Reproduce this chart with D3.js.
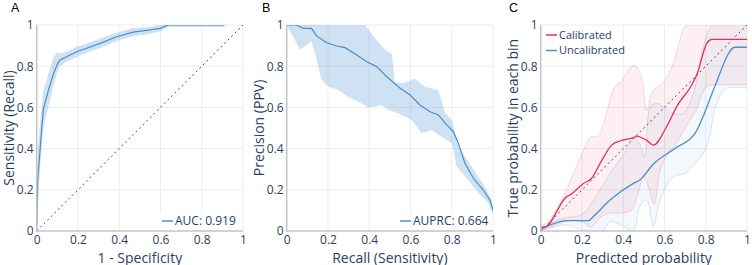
<!DOCTYPE html>
<html>
<head>
<meta charset="utf-8">
<script src="https://cdn.jsdelivr.net/npm/d3@7/dist/d3.min.js"></script>
<style>
  body { margin: 0; background: #fff; }
  svg { display: block; font-family: "Open Sans", sans-serif; }
</style>
</head>
<body>
<div id="chart"></div>
<script>
// ---- data ----
const ticks = [0, 0.2, 0.4, 0.6, 0.8, 1];

// A: ROC
const rocFpr   = [0, 0.005, 0.016, 0.032, 0.056, 0.08, 0.1, 0.113, 0.145, 0.194, 0.242, 0.307, 0.388, 0.468, 0.549, 0.598, 0.638, 0.91];
const rocTpr   = [0, 0.25, 0.39, 0.59, 0.68, 0.76, 0.81, 0.83, 0.846, 0.87, 0.887, 0.911, 0.943, 0.965, 0.976, 0.984, 1.0, 1.0];
const rocUpper = [0, 0.4, 0.52, 0.68, 0.76, 0.84, 0.87, 0.86, 0.87, 0.895, 0.91, 0.935, 0.962, 0.985, 0.99, 1.0, 1.0, 1.0];
const rocLower = [0, 0.12, 0.3, 0.5, 0.6, 0.7, 0.77, 0.8, 0.822, 0.845, 0.865, 0.888, 0.922, 0.945, 0.958, 0.968, 0.99, 0.99];

// B: precision-recall
const prRecall    = [0, 0.048, 0.08, 0.12, 0.145, 0.194, 0.242, 0.283, 0.34, 0.388, 0.436, 0.485, 0.55, 0.598, 0.646, 0.695, 0.735, 0.776, 0.808, 0.832, 0.864, 0.905, 0.953, 0.985, 1.0];
const prPrecision = [1, 1, 0.984, 0.984, 0.947, 0.914, 0.898, 0.89, 0.854, 0.822, 0.798, 0.749, 0.693, 0.66, 0.612, 0.579, 0.563, 0.515, 0.482, 0.426, 0.329, 0.256, 0.199, 0.15, 0.1];
const prUpperX = [0, 0.38, 0.41, 0.44, 0.476, 0.51, 0.524, 0.57, 0.621, 0.669, 0.735, 0.768, 0.8, 0.832, 0.897, 0.961, 0.993, 1.0];
const prUpperY = [1, 1, 0.96, 0.92, 0.88, 0.86, 0.72, 0.72, 0.74, 0.70, 0.684, 0.571, 0.539, 0.41, 0.312, 0.215, 0.15, 0.12];
const prLowerX = [0, 0.048, 0.065, 0.12, 0.145, 0.17, 0.202, 0.25, 0.299, 0.347, 0.396, 0.46, 0.49, 0.541, 0.606, 0.654, 0.703, 0.751, 0.8, 0.824, 0.864, 0.929, 0.977, 0.993, 1.0];
const prLowerY = [1, 0.911, 0.88, 0.92, 0.83, 0.733, 0.70, 0.684, 0.65, 0.628, 0.60, 0.61, 0.59, 0.57, 0.539, 0.475, 0.49, 0.458, 0.427, 0.312, 0.264, 0.184, 0.136, 0.1, 0.08];

// C: calibration
const calX = [0, 0.02, 0.126, 0.142, 0.207, 0.247, 0.288, 0.344, 0.384, 0.449, 0.465, 0.514, 0.546, 0.61, 0.659, 0.732, 0.756, 0.805, 0.83, 1];
const calY = [0.02, 0.02, 0.167, 0.175, 0.231, 0.256, 0.328, 0.417, 0.437, 0.453, 0.461, 0.44, 0.417, 0.506, 0.604, 0.709, 0.757, 0.911, 0.93, 0.93];
const calUpX = [0, 0.02, 0.068, 0.132, 0.181, 0.245, 0.278, 0.31, 0.359, 0.39, 0.439, 0.46, 0.488, 0.514, 0.546, 0.594, 0.643, 0.675, 0.708, 1];
const calUpY = [0.03, 0.035, 0.09, 0.215, 0.33, 0.458, 0.458, 0.539, 0.70, 0.725, 0.797, 0.8, 0.749, 0.587, 0.684, 0.72, 0.814, 0.927, 1.0, 1.0];
const calLoX = [0, 0.05, 0.1, 0.15, 0.2, 0.245, 0.294, 0.342, 0.39, 0.439, 0.472, 0.497, 0.52, 0.55, 0.58, 0.62, 0.66, 0.7, 0.75, 0.805, 0.85, 1];
const calLoY = [0.005, 0.02, 0.04, 0.053, 0.045, 0.02, 0.07, 0.087, 0.087, 0.1, 0.184, 0.26, 0.22, 0.13, 0.3, 0.38, 0.43, 0.5, 0.58, 0.703, 0.71, 0.71];

const uncalX = [0, 0.126, 0.231, 0.255, 0.336, 0.449, 0.481, 0.546, 0.651, 0.748, 0.837, 0.853, 0.942, 1];
const uncalY = [0.008, 0.05, 0.05, 0.07, 0.15, 0.231, 0.248, 0.325, 0.401, 0.474, 0.684, 0.725, 0.892, 0.892];
const uncUpX = [0, 0.1, 0.2, 0.25, 0.3, 0.35, 0.4, 0.455, 0.48, 0.505, 0.53, 0.56, 0.6, 0.643, 0.691, 0.74, 0.788, 0.837, 1];
const uncUpY = [0.01, 0.06, 0.08, 0.14, 0.22, 0.3, 0.37, 0.45, 0.42, 0.36, 0.6, 0.62, 0.6, 0.571, 0.571, 0.668, 0.895, 1.0, 1.0];
const uncLoX = [0, 0.126, 0.21, 0.3, 0.336, 0.39, 0.449, 0.48, 0.514, 0.546, 0.578, 0.643, 0.7, 0.75, 0.805, 0.853, 0.902, 1];
const uncLoY = [0, 0.03, 0, 0, 0.045, 0.03, 0, 0.12, 0.15, 0.02, 0.15, 0.264, 0.28, 0.33, 0.41, 0.62, 0.693, 0.693];

const colors = {
  text: '#2a3f5f',
  grid: '#ebedf0',
  axis: '#c4c4c4',
  blue: '#4a8fc9',
  blueFill: 'rgba(96,160,218,0.3)',
  red: '#e0335c',
  redFill: 'rgba(235,80,110,0.09)',
  redEdge: 'rgba(235,80,110,0.22)',
  uncFill: 'rgba(96,160,218,0.08)',
  uncEdge: 'rgba(96,160,218,0.25)',
  diag: '#4d4d4d'
};

const W = 752, H = 265;
const plotTop = 25, plotBottom = 231;

const svg = d3.select('#chart').append('svg')
  .attr('width', W)
  .attr('height', H);

const zip = (xs, ys) => xs.map((x, i) => [x, ys[i]]);

function drawPanel(opts) {
  const x = d3.scaleLinear().domain([0, 1]).range([opts.left, opts.left + 206.3]);
  const y = d3.scaleLinear().domain([0, 1]).range([plotBottom, plotTop]);
  const g = svg.append('g');

  // grid
  g.append('g')
    .selectAll('line')
    .data(ticks.slice(1))
    .enter().append('line')
    .attr('x1', d => x(d)).attr('x2', d => x(d))
    .attr('y1', plotTop).attr('y2', plotBottom)
    .attr('stroke', colors.grid).attr('stroke-width', 1);
  g.append('g')
    .selectAll('line')
    .data(ticks.slice(1))
    .enter().append('line')
    .attr('y1', d => y(d)).attr('y2', d => y(d))
    .attr('x1', x(0)).attr('x2', x(1))
    .attr('stroke', colors.grid).attr('stroke-width', 1);

  const fmt = d3.format('~g');
  const xAxis = g.append('g')
    .attr('transform', `translate(0,244)`)
    .call(d3.axisBottom(x).tickValues(ticks).tickFormat(fmt).tickSize(0));
  xAxis.selectAll('text').attr('y', 0).attr('dy', 0);
  const yAxis = g.append('g')
    .attr('transform', `translate(${x(0) - 3},0)`)
    .call(d3.axisLeft(y).tickValues(ticks).tickFormat(fmt).tickSize(0).tickPadding(0));
  [xAxis, yAxis].forEach(a => {
    a.select('.domain').remove();
    a.selectAll('text')
      .attr('fill', colors.text)
      .style('font-family', '"Open Sans", sans-serif')
      .style('font-size', '12px');
  });

  // clip
  const clipId = 'clip' + opts.letter;
  svg.append('clipPath').attr('id', clipId)
    .append('rect')
    .attr('x', x(0)).attr('y', plotTop)
    .attr('width', x(1) - x(0)).attr('height', plotBottom - plotTop);
  const plot = g.append('g').attr('clip-path', `url(#${clipId})`);

  // axis lines
  g.append('line')
    .attr('x1', x(0)).attr('x2', x(0)).attr('y1', plotTop).attr('y2', plotBottom + 1)
    .attr('stroke', colors.axis).attr('stroke-width', 1.5);
  g.append('line')
    .attr('x1', x(0) - 0.5).attr('x2', x(1)).attr('y1', plotBottom).attr('y2', plotBottom)
    .attr('stroke', colors.axis).attr('stroke-width', 1.5);

  // titles
  g.append('text')
    .attr('x', (x(0) + x(1)) / 2)
    .attr('y', 262.5)
    .attr('text-anchor', 'middle')
    .attr('fill', colors.text)
    .style('font-size', '14px')
    .text(opts.xTitle);
  g.append('text')
    .attr('transform', `translate(${opts.left - 22.5},${(plotTop + plotBottom) / 2}) rotate(-90)`)
    .attr('text-anchor', 'middle')
    .attr('fill', colors.text)
    .style('font-size', '14px')
    .text(opts.yTitle);

  svg.append('text')
    .attr('x', opts.letterX)
    .attr('y', 12)
    .attr('fill', '#000')
    .style('font-family', '"Liberation Sans", Arial, sans-serif')
    .style('font-size', '12.5px')
    .text(opts.letter);

  return { g, plot, x, y };
}

function band(p, upper, lower, curve) {
  // closed area between upper edge (left to right) and lower edge (right to left)
  const line = d3.line().x(d => p.x(d[0])).y(d => p.y(d[1])).curve(curve);
  const up = line(upper);
  const lo = line(lower.slice().reverse());
  return up + 'L' + lo.slice(1) + 'Z';
}

function diagonal(p) {
  p.plot.append('line')
    .attr('x1', p.x(0)).attr('y1', p.y(0))
    .attr('x2', p.x(1)).attr('y2', p.y(1))
    .attr('stroke', colors.diag)
    .attr('stroke-width', 1)
    .attr('stroke-dasharray', '2,3');
}

function legendItem(p, lx, ly, color, label, size) {
  p.g.append('line')
    .attr('x1', lx).attr('x2', lx + 11)
    .attr('y1', ly).attr('y2', ly)
    .attr('stroke', color).attr('stroke-width', 1.5);
  p.g.append('text')
    .attr('x', lx + 13)
    .attr('y', ly)
    .attr('dy', '0.35em')
    .attr('fill', colors.text)
    .style('font-size', (size || 12) + 'px')
    .text(label);
}

// ---- A ----
const pA = drawPanel({ left: 36.7, letter: 'A', letterX: 11, xTitle: '1 - Specificity', yTitle: 'Sensitivity (Recall)' });
pA.plot.append('path')
  .attr('d', band(pA, zip(rocFpr, rocUpper), zip(rocFpr, rocLower), d3.curveLinear))
  .attr('fill', colors.blueFill).attr('stroke', 'none');
diagonal(pA);
pA.plot.append('path')
  .datum(zip(rocFpr, rocTpr))
  .attr('d', d3.line().x(d => pA.x(d[0])).y(d => pA.y(d[1])))
  .attr('fill', 'none').attr('stroke', colors.blue).attr('stroke-width', 1.2);
pA.g.append('rect')
  .attr('x', 160).attr('y', 213).attr('width', 82).attr('height', 17)
  .attr('fill', '#fff');
legendItem(pA, 162, 221, colors.blue, 'AUC: 0.919');

// ---- B ----
const pB = drawPanel({ left: 286.7, letter: 'B', letterX: 262, xTitle: 'Recall (Sensitivity)', yTitle: 'Precision (PPV)' });
pB.plot.append('path')
  .attr('d', band(pB, zip(prUpperX, prUpperY), zip(prLowerX, prLowerY), d3.curveLinear))
  .attr('fill', colors.blueFill).attr('stroke', 'none');
pB.plot.append('path')
  .datum(zip(prRecall, prPrecision))
  .attr('d', d3.line().x(d => pB.x(d[0])).y(d => pB.y(d[1])))
  .attr('fill', 'none').attr('stroke', colors.blue).attr('stroke-width', 1.2);
pB.g.append('rect')
  .attr('x', 398).attr('y', 213).attr('width', 94).attr('height', 17)
  .attr('fill', '#fff');
legendItem(pB, 400, 221, colors.blue, 'AUPRC: 0.664');

// ---- C ----
const pC = drawPanel({ left: 540.7, letter: 'C', letterX: 509, xTitle: 'Predicted probability', yTitle: 'True probability in each bin' });
const smooth = d3.curveCatmullRom.alpha(0.5);
[[uncUpX, uncUpY, uncLoX, uncLoY, colors.uncFill, colors.uncEdge],
 [calUpX, calUpY, calLoX, calLoY, colors.redFill, colors.redEdge]].forEach(([ux, uy, lx, ly, fill, edge]) => {
  pC.plot.append('path')
    .attr('d', band(pC, zip(ux, uy), zip(lx, ly), smooth))
    .attr('fill', fill).attr('stroke', 'none');
  const edgeLine = d3.line().x(d => pC.x(d[0])).y(d => pC.y(d[1])).curve(smooth);
  pC.plot.append('path').attr('d', edgeLine(zip(ux, uy)))
    .attr('fill', 'none').attr('stroke', edge).attr('stroke-width', 1);
  pC.plot.append('path').attr('d', edgeLine(zip(lx, ly)))
    .attr('fill', 'none').attr('stroke', edge).attr('stroke-width', 1);
});
diagonal(pC);
const lineC = d3.line().x(d => pC.x(d[0])).y(d => pC.y(d[1])).curve(d3.curveMonotoneX);
pC.plot.append('path').attr('d', lineC(zip(uncalX, uncalY)))
  .attr('fill', 'none').attr('stroke', colors.blue).attr('stroke-width', 1.3);
pC.plot.append('path').attr('d', lineC(zip(calX, calY)))
  .attr('fill', 'none').attr('stroke', colors.red).attr('stroke-width', 1.3);
legendItem(pC, 546, 35, colors.red, 'Calibrated', 11);
legendItem(pC, 546, 50.5, colors.blue, 'Uncalibrated', 11);
</script>
</body>
</html>
